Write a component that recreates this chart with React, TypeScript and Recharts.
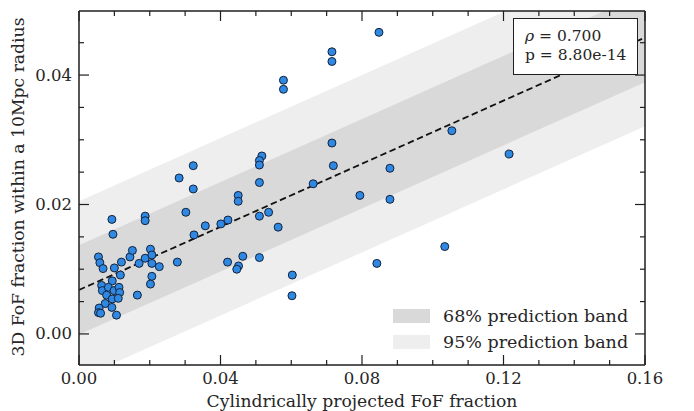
import { Area, ComposedChart, Line, Scatter, XAxis, YAxis } from 'recharts';

// galaxy-group fractions
const pointX = [
  0.0093, 0.0096, 0.0187, 0.0187, 0.0302, 0.0055, 0.0059, 0.0068, 0.01, 0.012,
  0.0117, 0.0094, 0.0144, 0.0151, 0.017, 0.0187, 0.0202, 0.0206, 0.0206, 0.0227,
  0.0206, 0.0202, 0.0278, 0.0165, 0.0064, 0.0066, 0.0083, 0.0099, 0.0113, 0.0115,
  0.0078, 0.0094, 0.0111, 0.0074, 0.0093, 0.0057, 0.0055, 0.0061, 0.0106, 0.0283,
  0.0323, 0.0323, 0.0325, 0.0357, 0.0401, 0.0421, 0.045, 0.045, 0.051, 0.051,
  0.0536, 0.0563, 0.042, 0.0463, 0.0451, 0.0446, 0.051, 0.0603, 0.0602, 0.0578,
  0.0578, 0.0517, 0.051, 0.051, 0.0662, 0.0848, 0.0715, 0.0715, 0.1054, 0.1216,
  0.0715, 0.0719, 0.0879, 0.0794, 0.0879, 0.0842, 0.1034,
];
const pointY = [
  0.0177, 0.0154, 0.0182, 0.0175, 0.0188, 0.0119, 0.011, 0.0101, 0.0102, 0.0111,
  0.0091, 0.0082, 0.0119, 0.0129, 0.0109, 0.0117, 0.0131, 0.0122, 0.0109, 0.0104,
  0.0089, 0.0077, 0.0111, 0.006, 0.0075, 0.0067, 0.0072, 0.0067, 0.0072, 0.0064,
  0.006, 0.0054, 0.0055, 0.0047, 0.0041, 0.004, 0.0033, 0.0032, 0.0029, 0.0241,
  0.026, 0.0224, 0.0153, 0.0167, 0.017, 0.0176, 0.0214, 0.0205, 0.0234, 0.0182,
  0.0188, 0.0165, 0.0111, 0.012, 0.0105, 0.01, 0.0118, 0.0091, 0.0059, 0.0392,
  0.0378, 0.0275, 0.0268, 0.0261, 0.0232, 0.0466, 0.0436, 0.0421, 0.0314, 0.0278,
  0.0295, 0.026, 0.0256, 0.0214, 0.0208, 0.0109, 0.0135,
];

// fit line and prediction bands at the two ends of the x range
const fitX = [0, 0.16];
const fitY = [0.0068, 0.0458];
const band68Lo = [-0.0001, 0.0389];
const band68Hi = [0.0137, 0.0527];
const band95Lo = [-0.0069, 0.0321];
const band95Hi = [0.0205, 0.0595];

const xTicks = [0, 0.01, 0.02, 0.03, 0.04, 0.05, 0.06, 0.07, 0.08, 0.09, 0.1, 0.11, 0.12, 0.13, 0.14, 0.15, 0.16];
const xMajor = [0, 0.04, 0.08, 0.12, 0.16];
const yTicks = [0, 0.005, 0.01, 0.015, 0.02, 0.025, 0.03, 0.035, 0.04, 0.045];
const yMajor = [0, 0.02, 0.04];

const bandLabels = ['68% prediction band', '95% prediction band'];
const statRho = '0.700';
const statP = '8.80e-14';

const FONT = '"DejaVu Serif", serif';
const C68 = '#d9d9d9';
const C95 = '#eeeeee';
const INK = '#1e1e1e';
const TXT = '#262626';

const points = pointX.map((x, i) => ({ x, y: pointY[i] }));
const bandRows = fitX.map((x, i) => ({
  x,
  fit: fitY[i],
  b68: [band68Lo[i], band68Hi[i]],
  b95: [band95Lo[i], band95Hi[i]],
}));

function BottomTick(props: any) {
  const { x, y, payload } = props;
  const major = xMajor.includes(payload.value);
  return (
    <g>
      <line x1={x} x2={x} y1={y} y2={y - (major ? 10 : 5)} stroke={INK} strokeWidth={1.2} />
      {major && (
        <text x={x} y={y + 19} textAnchor="middle" fontSize={16.5} fontFamily={FONT} fill={TXT}>
          {payload.value.toFixed(2)}
        </text>
      )}
    </g>
  );
}

function TopTick(props: any) {
  const { x, y, payload } = props;
  const major = xMajor.includes(payload.value);
  return <line x1={x} x2={x} y1={y} y2={y + (major ? 10 : 5)} stroke={INK} strokeWidth={1.2} />;
}

function LeftTick(props: any) {
  const { x, y, payload } = props;
  const major = yMajor.includes(payload.value);
  return (
    <g>
      <line x1={x} x2={x + (major ? 10 : 5)} y1={y} y2={y} stroke={INK} strokeWidth={1.2} />
      {major && (
        <text x={x - 7} y={y + 5.5} textAnchor="end" fontSize={16.5} fontFamily={FONT} fill={TXT}>
          {payload.value.toFixed(2)}
        </text>
      )}
    </g>
  );
}

function RightTick(props: any) {
  const { x, y, payload } = props;
  const major = yMajor.includes(payload.value);
  return <line x1={x} x2={x - (major ? 10 : 5)} y1={y} y2={y} stroke={INK} strokeWidth={1.2} />;
}

function Dot(props: any) {
  return <circle cx={props.cx} cy={props.cy} r={4} fill="#2f89e3" stroke="#14213a" strokeWidth={1} />;
}

export default function App() {
  return (
    <div style={{ position: 'absolute', left: 0, top: 0, width: 694, height: 411, fontFamily: FONT }}>
      <ComposedChart width={694} height={411} margin={{ top: 0, right: 0, bottom: 0, left: 0 }}>
        <XAxis
          dataKey="x"
          type="number"
          domain={[0, 0.16]}
          ticks={xTicks}
          interval={0}
          height={46}
          tickSize={0}
          tickMargin={0}
          tickLine={false}
          tick={<BottomTick />}
          axisLine={{ stroke: INK, strokeWidth: 1.5 }}
          allowDataOverflow
          label={{
            value: 'Cylindrically projected FoF fraction',
            position: 'insideBottom',
            offset: 4,
            fontSize: 17.2,
            fontFamily: FONT,
            fill: TXT,
          }}
        />
        <XAxis
          xAxisId="top"
          orientation="top"
          dataKey="x"
          type="number"
          domain={[0, 0.16]}
          ticks={xTicks}
          interval={0}
          height={11}
          tickSize={0}
          tickMargin={0}
          tickLine={false}
          tick={<TopTick />}
          axisLine={{ stroke: INK, strokeWidth: 1.5 }}
          allowDataOverflow
        />
        <YAxis
          type="number"
          domain={[-0.0048, 0.0499]}
          ticks={yTicks}
          interval={0}
          width={79}
          tickSize={0}
          tickMargin={0}
          tickLine={false}
          tick={<LeftTick />}
          axisLine={{ stroke: INK, strokeWidth: 1.5 }}
          allowDataOverflow
          label={{
            content: (p: any) => {
              const vb = p.viewBox;
              const cx = vb.x + 18;
              const cy = vb.y + vb.height / 2 - 1;
              return (
                <text
                  x={cx}
                  y={cy}
                  transform={`rotate(-90 ${cx} ${cy})`}
                  textAnchor="middle"
                  dominantBaseline="central"
                  fontSize={17.2}
                  fontFamily={FONT}
                  fill={TXT}
                >
                  3D FoF fraction within a 10Mpc radius
                </text>
              );
            },
          }}
        />
        <YAxis
          yAxisId="right"
          orientation="right"
          type="number"
          domain={[-0.0048, 0.0499]}
          ticks={yTicks}
          interval={0}
          width={49}
          tickSize={0}
          tickMargin={0}
          tickLine={false}
          tick={<RightTick />}
          axisLine={{ stroke: INK, strokeWidth: 1.5 }}
          allowDataOverflow
        />
        <Area data={bandRows} dataKey="b95" type="linear" fill={C95} fillOpacity={1} stroke="none" isAnimationActive={false} />
        <Area data={bandRows} dataKey="b68" type="linear" fill={C68} fillOpacity={1} stroke="none" isAnimationActive={false} />
        <Line
          data={bandRows}
          dataKey="fit"
          type="linear"
          stroke="#111"
          strokeWidth={1.8}
          strokeDasharray="6.5 3.5"
          dot={false}
          isAnimationActive={false}
        />
        <Scatter data={points} dataKey="y" shape={<Dot />} isAnimationActive={false} />
      </ComposedChart>

      <div
        style={{
          position: 'absolute',
          left: 513,
          top: 18,
          width: 125,
          height: 57,
          boxSizing: 'border-box',
          background: '#fff',
          border: `1.5px solid ${INK}`,
          padding: '8px 0 0 11px',
          fontSize: 15.5,
          lineHeight: '19px',
          color: TXT,
        }}
      >
        <div>
          <i>ρ</i> = {statRho}
        </div>
        <div>p = {statP}</div>
      </div>

      <div style={{ position: 'absolute', left: 393, top: 303, color: TXT, fontSize: 17.5 }}>
        {bandLabels.map((label, i) => (
          <div key={label} style={{ display: 'flex', alignItems: 'center', height: 26 }}>
            <span style={{ width: 37, height: 14, background: i === 0 ? C68 : C95, marginRight: 13 }} />
            <span>{label}</span>
          </div>
        ))}
      </div>
    </div>
  );
}
